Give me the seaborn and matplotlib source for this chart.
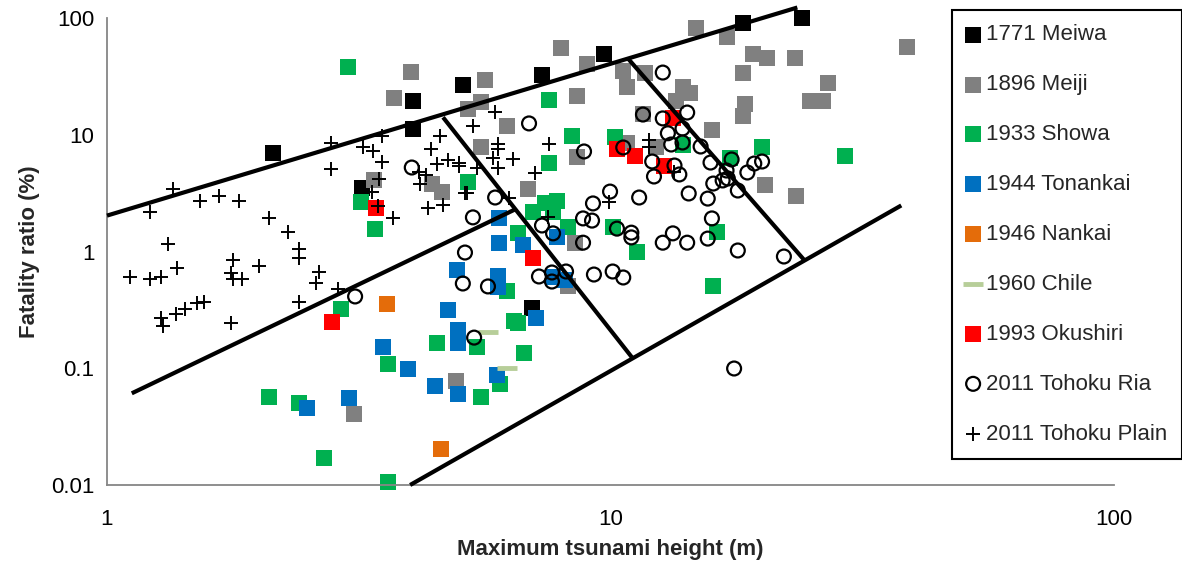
import matplotlib
matplotlib.use("Agg")
import matplotlib.pyplot as plt
import matplotlib.ticker as mticker
import seaborn as sns

# =========================
# DATA (height m, fatality %)
# =========================
meiwa_h = [2.14, 4.05, 4.05, 5.09, 7.31, 9.71, 18.3, 24.0, 3.21, 6.99]
meiwa_r = [6.91, 19.6, 11.1, 26.9, 32.2, 48.7, 91.5, 100, 3.53, 0.325]

meiji_h = [4.02, 3.72, 5.63, 7.98, 8.98, 5.21, 5.53, 8.58, 6.23, 5.53, 8.58, 6.86,
           3.39, 4.63, 4.42, 8.50, 3.09, 8.24, 4.93, 14.8, 17.0, 10.6, 11.7, 10.8,
           19.2, 20.5, 23.3, 18.3, 27.0, 13.9, 14.4, 13.5, 18.5, 18.3, 24.9, 26.4,
           15.9, 11.6, 10.8, 12.3, 20.3, 23.4, 38.8]
meiji_r = [34.8, 20.8, 29.7, 54.8, 40.0, 16.5, 18.9, 21.3, 11.8, 7.78, 6.51, 3.40,
           4.06, 3.26, 3.82, 1.19, 0.0402, 0.511, 0.0785, 82.9, 68.1, 35.5, 33.5, 25.4,
           49.6, 45.0, 45.0, 33.5, 27.5, 25.4, 23.0, 19.6, 18.5, 14.6, 19.3, 19.3,
           10.9, 15.2, 8.58, 7.78, 3.68, 2.96, 57.0]

showa_h = [3.01, 3.20, 3.41, 5.21, 7.55, 8.39, 7.55, 7.02, 7.41, 7.83, 7.69, 6.55,
           8.24, 2.92, 2.10, 2.41, 2.70, 6.23, 6.43, 6.55, 4.52, 5.43, 6.73, 3.62,
           6.03, 5.53, 3.62, 10.2, 20.0, 29.2, 17.3, 13.9, 10.1, 16.3, 11.3, 16.0]
showa_r = [37.7, 2.63, 1.57, 3.90, 20.0, 9.85, 5.78, 2.16, 2.58, 2.73, 2.16, 1.43,
           1.61, 0.319, 0.0562, 0.0499, 0.0169, 0.463, 0.256, 0.242, 0.166, 0.151, 0.134, 0.108,
           0.0726, 0.0562, 0.0107, 9.66, 7.93, 6.64, 6.38, 8.25, 1.61, 1.48, 1.0, 0.511]

tonankai_h = [6.01, 6.01, 6.70, 7.83, 2.50, 3.02, 4.96, 5.98, 5.98, 4.76, 4.98, 4.98,
              3.53, 3.96, 4.48, 4.98, 5.95, 7.11, 7.69, 8.12]
tonankai_r = [1.92, 1.19, 1.13, 1.34, 0.0461, 0.0551, 0.701, 0.611, 0.492, 0.313, 0.211, 0.163,
              0.151, 0.0995, 0.0711, 0.0596, 0.0867, 0.272, 0.599, 0.565]

nankai_h = [3.60, 4.61]
nankai_r = [0.352, 0.0205]

chile_h = [5.71, 6.23]
chile_r = [0.203, 0.101]

okushiri_h = [2.80, 3.42, 7.02, 13.3, 10.3, 11.2, 12.8]
okushiri_r = [0.247, 2.38, 0.888, 14.0, 7.62, 6.64, 5.35]

ria_h = [6.89, 8.86, 4.03, 5.90, 5.33, 9.23, 7.31, 7.69, 8.82, 9.19, 8.82, 5.14,
         3.11, 12.7, 14.2, 11.6, 12.7, 13.9, 13.0, 13.2, 13.9, 10.6, 15.1, 12.1,
         13.4, 15.8, 17.4, 13.7, 12.2, 20.0, 19.3, 18.7, 17.0, 17.1, 16.0, 16.7,
         17.9, 9.98, 11.4, 14.3, 15.6, 10.3, 11.0, 11.0, 15.9, 13.3, 12.7, 14.2,
         15.6, 17.9, 9.27, 10.1, 10.6, 22.1, 17.6, 5.09, 5.71, 5.36, 7.21, 7.65,
         7.65, 8.16]
ria_r = [12.5, 7.19, 5.24, 2.90, 1.96, 2.58, 1.67, 1.43, 1.92, 1.84, 1.19, 0.98,
         0.412, 34.1, 15.5, 14.9, 13.8, 11.3, 10.3, 8.25, 8.58, 7.78, 7.93, 5.90,
         5.45, 5.78, 6.14, 4.57, 4.39, 5.90, 5.67, 4.75, 4.94, 4.22, 3.82, 4.06,
         3.33, 3.26, 2.90, 3.14, 2.84, 1.57, 1.45, 1.32, 1.92, 1.43, 1.19, 1.19,
         1.29, 1.02, 0.635, 0.674, 0.599, 0.906, 0.0995, 0.532, 0.502, 0.183, 0.611, 0.661,
         0.553, 0.674]

plain_h = [2.79, 2.79, 1.35, 1.22, 1.53, 1.67, 1.83, 2.10, 2.29, 1.32, 2.41, 1.11,
           1.22, 1.28, 1.38, 1.28, 1.29, 1.37, 1.43, 1.51, 1.56, 1.76, 1.78, 1.76,
           1.78, 1.85, 2.00, 2.41, 2.64, 2.60, 2.41, 2.88, 5.90, 5.33, 4.59, 3.52,
           3.23, 3.38, 3.52, 4.40, 5.98, 5.98, 7.55, 5.84, 6.40, 5.98, 4.52, 4.76,
           5.00, 5.00, 5.43, 4.17, 4.30, 4.18, 3.47, 3.36, 5.14, 5.19, 6.29, 7.08,
           3.45, 3.70, 4.34, 4.65, 7.52, 11.9, 11.9, 9.93, 13.4]
plain_r = [8.58, 5.04, 3.40, 2.16, 2.73, 2.96, 2.73, 1.92, 1.48, 1.17, 1.06, 0.599,
           0.587, 0.599, 0.729, 0.272, 0.232, 0.294, 0.319, 0.359, 0.373, 0.242, 0.854, 0.648,
           0.587, 0.576, 0.744, 0.888, 0.661, 0.532, 0.373, 0.473, 15.8, 12.0, 9.85, 9.85,
           7.78, 7.19, 5.90, 7.62, 8.41, 7.62, 8.41, 6.38, 6.14, 5.14, 5.67, 6.02,
           5.78, 5.45, 5.24, 4.84, 4.48, 3.82, 4.14, 3.26, 3.20, 3.14, 2.90, 4.66,
           2.43, 1.92, 2.38, 2.48, 1.96, 8.93, 7.78, 2.63, 4.75]

# boundary lines drawn on the chart (start / end points)
boundary_h = [(1.0, 23.5), (1.12, 6.46), (4.0, 37.8), (4.65, 11.03), (10.83, 24.3)]
boundary_r = [(2.03, 123), (0.061, 2.29), (0.01, 2.48), (14.1, 0.124), (45.0, 0.837)]

x_ticks = [1, 10, 100]
y_ticks = [0.01, 0.1, 1, 10, 100]

# =========================
# STYLE
# =========================
sns.set_style("white")
plt.rcParams['font.family'] = ['Liberation Sans', 'DejaVu Sans']
AXIS_GREY = "#868686"

fig = plt.figure(figsize=(11.82, 5.64), dpi=100)
ax = fig.add_axes([107 / 1182, 79 / 564, 1007 / 1182, 467 / 564])

SQ = dict(marker="s", s=140, linewidth=0)
series = [
    (meiwa_h, meiwa_r, "1771 Meiwa", dict(color="black", **SQ)),
    (meiji_h, meiji_r, "1896 Meiji", dict(color="#808080", **SQ)),
    (showa_h, showa_r, "1933 Showa", dict(color="#00B050", **SQ)),
    (tonankai_h, tonankai_r, "1944 Tonankai", dict(color="#0070C0", **SQ)),
    (nankai_h, nankai_r, "1946 Nankai", dict(color="#E46C0A", **SQ)),
    (chile_h, chile_r, "1960 Chile", dict(color="#B7CE99", marker="_", s=200, linewidth=3.5)),
    (okushiri_h, okushiri_r, "1993 Okushiri", dict(color="#FF0000", **SQ)),
    (ria_h, ria_r, "2011 Tohoku Ria", dict(marker="o", s=100, facecolor="none",
                                          edgecolor="black", linewidth=1.6)),
    (plain_h, plain_r, "2011 Tohoku Plain", dict(color="black", marker="+", s=110, linewidth=1.4)),
]

for h, r, name, kw in series:
    sns.scatterplot(x=h, y=r, ax=ax, label=name, clip_on=False, zorder=2, **kw)

for bh, br in zip(boundary_h, boundary_r):
    ax.plot(bh, br, color="black", lw=3, clip_on=False, zorder=3, solid_capstyle="butt")

ax.set_xscale("log")
ax.set_yscale("log")
ax.set_xlim(1, 100)
ax.set_ylim(0.01, 100)
ax.set_xticks(x_ticks)
ax.set_yticks(y_ticks)
fmt = mticker.FuncFormatter(lambda v, _: f"{v:g}")
ax.xaxis.set_major_formatter(fmt)
ax.yaxis.set_major_formatter(fmt)
ax.xaxis.set_minor_formatter(mticker.NullFormatter())
ax.yaxis.set_minor_formatter(mticker.NullFormatter())

for side in ["top", "right"]:
    ax.spines[side].set_visible(False)
for side in ["left", "bottom"]:
    ax.spines[side].set_color(AXIS_GREY)
    ax.spines[side].set_linewidth(1.3)

ax.tick_params(which="major", direction="out", length=5, width=1, color=AXIS_GREY,
               labelsize=16, labelcolor="black")
ax.tick_params(which="minor", direction="out", length=3.5, width=1, color=AXIS_GREY)
ax.tick_params(axis="x", which="major", pad=12)
ax.tick_params(axis="y", which="major", pad=4)

ax.set_xlabel("Maximum tsunami height (m)", fontsize=16, fontweight="bold", labelpad=7)
ax.set_ylabel("Fatality ratio (%)", fontsize=16, fontweight="bold", labelpad=8)

leg = ax.legend(loc="upper left", bbox_to_anchor=(952 / 1182, 1 - 10 / 564),
                bbox_transform=fig.transFigure, fontsize=16, frameon=True,
                fancybox=False, edgecolor="black", framealpha=1, borderpad=0.65,
                labelspacing=1.3, handlelength=0.6, handletextpad=0.3, borderaxespad=0)
leg.get_frame().set_linewidth(1.5)

fig.savefig("out.png", dpi=100)
